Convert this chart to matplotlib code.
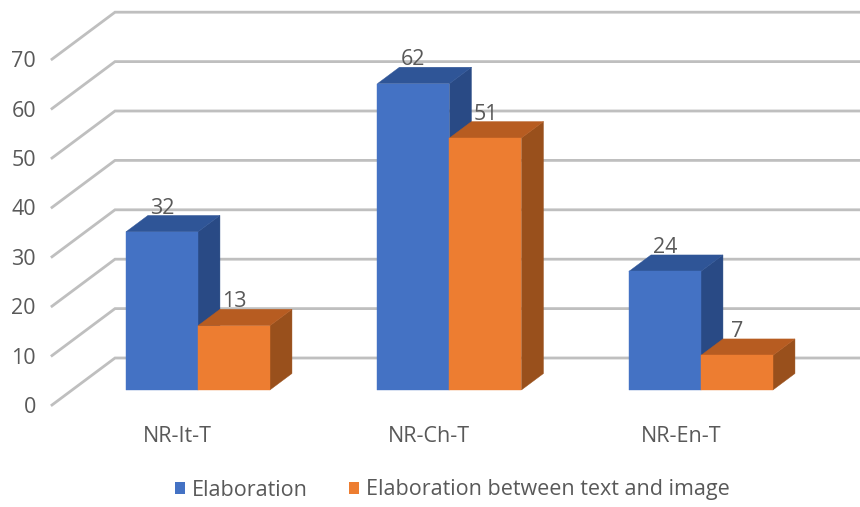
import matplotlib
matplotlib.use("Agg")
import matplotlib.pyplot as plt
from matplotlib.patches import Polygon, Patch

# ---- data -------------------------------------------------------------
categories = ["NR-It-T", "NR-Ch-T", "NR-En-T"]
series_names = ["Elaboration", "Elaboration between text and image"]
elaboration = [32, 62, 24]
elaboration_text_image = [13, 51, 7]
y_ticks = [0, 10, 20, 30, 40, 50, 60, 70]

series_values = [elaboration, elaboration_text_image]

# face colours per series: front, top, side
front_colors = ["#4472C4", "#ED7D31"]
top_colors = ["#2F5597", "#B75C21"]
side_colors = ["#294A85", "#99501C"]

text_color = "#595959"
grid_color = "#BFBFBF"
FS = 15.5
plt.rcParams["font.family"] = ["Open Sans", "DejaVu Sans"]

# ---- figure / coordinate system --------------------------------------
W, H = 860, 507
fig = plt.figure(figsize=(W / 100, H / 100), dpi=100)
ax = fig.add_axes([0, 0, 1, 1])
ax.set_axis_off()

PX_PER_CAT = 251.5       # horizontal pixels per category slot
PX_PER_VAL = 4.94        # vertical pixels per value unit
X0_PX, Y0_PX = 52, 405   # front-left corner of the floor (pixels)
DEPTH_DX, DEPTH_DY = 63, 47  # oblique offset for full depth (pixels)

ax.set_xlim(-X0_PX / PX_PER_CAT, (W - X0_PX) / PX_PER_CAT)
ax.set_ylim((Y0_PX - H) / PX_PER_VAL, Y0_PX / PX_PER_VAL)

DXU = DEPTH_DX / PX_PER_CAT
DYU = DEPTH_DY / PX_PER_VAL


def proj(x, v, d):
    """Oblique projection of (category x, value v, depth d in 0..1)."""
    return (x + d * DXU, v + d * DYU)


n_cat = len(categories)

# ---- walls: gridlines on the side wall and back wall ------------------
for v in y_ticks:
    p_front = proj(0, v, 0)
    p_back = proj(0, v, 1)
    p_right = proj(n_cat + 0.2, v, 1)
    ax.plot([p_front[0], p_back[0], p_right[0]],
            [p_front[1], p_back[1], p_right[1]],
            color=grid_color, lw=2.0, solid_joinstyle="miter", zorder=1)
    ax.text(-16 / PX_PER_CAT, v - 0.5, str(v), ha="right", va="center",
            fontsize=FS, color=text_color)

# ---- 3D bars ----------------------------------------------------------
bar_w = 72 / PX_PER_CAT
d_front, d_back = 0.32, 0.67

z = 2
for i in range(n_cat):
    for s, vals in enumerate(series_values):
        v = vals[i]
        x0 = i + 0.5 - bar_w + s * bar_w
        x1 = x0 + bar_w
        side = [proj(x1, 0, d_front), proj(x1, v, d_front),
                proj(x1, v, d_back), proj(x1, 0, d_back)]
        top = [proj(x0, v, d_front), proj(x1, v, d_front),
               proj(x1, v, d_back), proj(x0, v, d_back)]
        front = [proj(x0, 0, d_front), proj(x1, 0, d_front),
                 proj(x1, v, d_front), proj(x0, v, d_front)]
        for pts, col in ((side, side_colors[s]), (top, top_colors[s]),
                         (front, front_colors[s])):
            ax.add_patch(Polygon(pts, closed=True, facecolor=col,
                                 edgecolor=col, lw=0.3, zorder=z))
        z += 1
        lx, _ = proj(x0 + bar_w / 2, v, d_front)
        _, ly = proj(x0, v, d_back)
        ax.text(lx, ly + 1.5, str(v), ha="center", va="center",
                fontsize=FS, color=text_color, zorder=50)

# ---- category labels -------------------------------------------------
for i, name in enumerate(categories):
    ax.text(i + 0.5, -31 / PX_PER_VAL, name, ha="center", va="center",
            fontsize=FS, color=text_color)

# ---- legend ------------------------------------------------------------
handles = [Patch(facecolor=front_colors[k], edgecolor="none", label=series_names[k])
           for k in range(len(series_names))]
leg = fig.legend(handles=handles, loc="center", ncol=2, frameon=False,
                 bbox_to_anchor=(452 / W, 1 - 490 / H),
                 handlelength=0.5, handleheight=0.5, handletextpad=0.3,
                 columnspacing=1.9, fontsize=FS)
for t in leg.get_texts():
    t.set_color(text_color)

fig.savefig("out.png", dpi=100, facecolor="white")
